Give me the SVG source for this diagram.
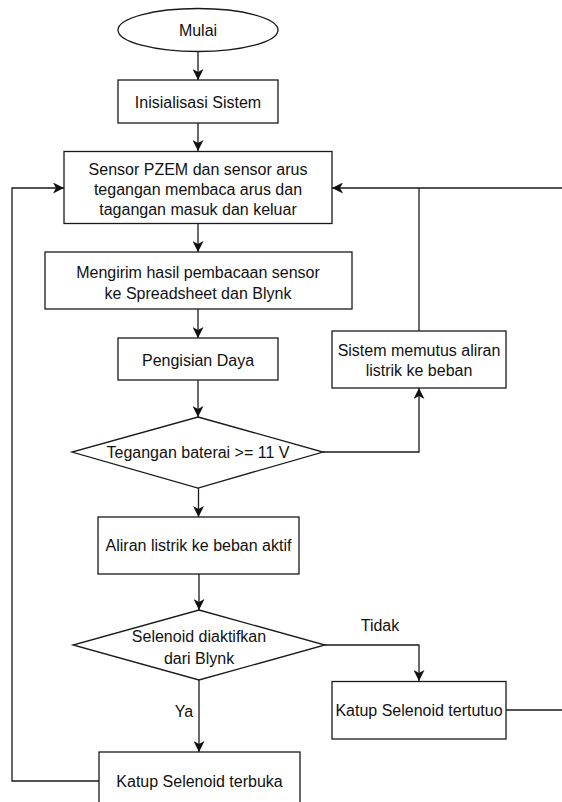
<svg xmlns="http://www.w3.org/2000/svg" width="562" height="802" viewBox="0 0 562 802">
<style>
.s{fill:#fff;stroke:#1a1a1a;stroke-width:1.3}
.c{fill:none;stroke:#1a1a1a;stroke-width:1.3}
text{font-family:"Liberation Sans",Arial,sans-serif;font-size:16px;fill:#111;text-anchor:middle}
</style>
<defs>
<marker id="a" markerUnits="userSpaceOnUse" markerWidth="12" markerHeight="11" refX="11" refY="5.5" orient="auto">
<path d="M0,0 L11,5.5 L0,11 L3,5.5 z" fill="#111"/>
</marker>
</defs>
<rect width="562" height="802" fill="#fff"/>
<g id="connectors">
<path class="c" d="M198,52 V80" marker-end="url(#a)"/>
<path class="c" d="M198,123 V151" marker-end="url(#a)"/>
<path class="c" d="M198,223 V252" marker-end="url(#a)"/>
<path class="c" d="M198,309 V338" marker-end="url(#a)"/>
<path class="c" d="M198,380 V417" marker-end="url(#a)"/>
<path class="c" d="M323,452 H419 V388" marker-end="url(#a)"/>
<path class="c" d="M419,331 V188"/>
<path class="c" d="M506,710 H575 V188 H332" marker-end="url(#a)"/>
<path class="c" d="M198.5,488 V517" marker-end="url(#a)"/>
<path class="c" d="M199,574 V610" marker-end="url(#a)"/>
<path class="c" d="M325,645 H419 V681" marker-end="url(#a)"/>
<path class="c" d="M199,680 V752" marker-end="url(#a)"/>
<path class="c" d="M99,781 H12 V188 H64" marker-end="url(#a)"/>
<text x="380" y="630.5">Tidak</text>
<text x="184" y="716.5">Ya</text>
</g>
<g id="mulai"><ellipse class="s" cx="198" cy="30" rx="80" ry="21.5"/><text x="198" y="36">Mulai</text></g>
<g id="inisialisasi"><rect class="s" x="118" y="80" width="160" height="43"/><text x="198" y="107.5">Inisialisasi Sistem</text></g>
<g id="sensor"><rect class="s" x="64" y="151.5" width="268" height="72"/><text x="198" y="174.5">Sensor PZEM dan sensor arus</text><text x="198" y="194.5">tegangan membaca arus dan</text><text x="198" y="214.5">tagangan masuk dan keluar</text></g>
<g id="mengirim"><rect class="s" x="45" y="252" width="307" height="57"/><text x="198" y="277.5">Mengirim hasil pembacaan sensor</text><text x="198" y="298.5">ke Spreadsheet dan Blynk</text></g>
<g id="pengisian"><rect class="s" x="118" y="338" width="160" height="42"/><text x="198" y="365.5">Pengisian Daya</text></g>
<g id="memutus"><rect class="s" x="332" y="331" width="174" height="57"/><text x="419" y="355.5">Sistem memutus aliran</text><text x="419" y="375.5">listrik ke beban</text></g>
<g id="tegangan"><path class="s" d="M198,417 L323,452 L198,488 L72,452 Z"/><text x="198" y="457.5">Tegangan baterai &gt;= 11 V</text></g>
<g id="aliran"><rect class="s" x="98" y="517" width="201" height="57"/><text x="198.5" y="551">Aliran listrik ke beban aktif</text></g>
<g id="selenoid"><path class="s" d="M199,610 L325,645 L199,680 L73,645 Z"/><text x="199" y="641.5">Selenoid diaktifkan</text><text x="199" y="664">dari Blynk</text></g>
<g id="tertutup"><rect class="s" x="332" y="681.5" width="174" height="57.5"/><text x="419" y="715.5">Katup Selenoid tertutuo</text></g>
<g id="terbuka"><rect class="s" x="99" y="752" width="201" height="62"/><text x="199.5" y="787">Katup Selenoid terbuka</text></g>
</svg>
